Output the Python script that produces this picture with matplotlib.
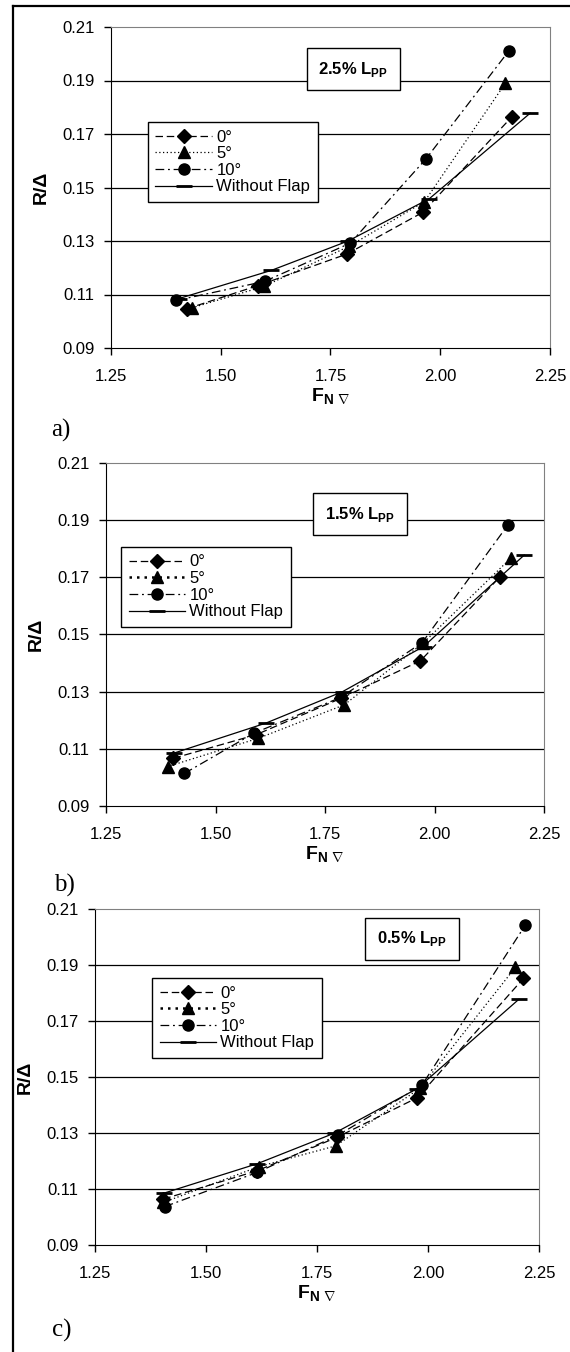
import matplotlib
matplotlib.use("Agg")
import matplotlib.pyplot as plt
from matplotlib.lines import Line2D

plt.rcParams['font.family'] = ['Liberation Sans', 'DejaVu Sans']
plt.rcParams['mathtext.fontset'] = 'custom'
plt.rcParams['mathtext.rm'] = 'Liberation Sans'
plt.rcParams['mathtext.bf'] = 'Liberation Sans:bold'

# data
series_labels = ['0°', '5°', '10°', 'Without Flap']
panel_tags = ['a)', 'b)', 'c)']
panel_titles = ['2.5%', '1.5%', '0.5%']
x_ticks = [1.25, 1.50, 1.75, 2.00, 2.25]
y_ticks = [0.09, 0.11, 0.13, 0.15, 0.17, 0.19, 0.21]

# without flap (same in every panel)
fn_nf = [1.405, 1.615, 1.790, 1.975, 2.205]
r_nf = [0.1085, 0.1190, 0.1300, 0.1458, 0.1778]

# a) 2.5% Lpp
fn_a0 = [1.422, 1.584, 1.787, 1.960, 2.163]
r_a0 = [0.1046, 0.1133, 0.1251, 0.1407, 0.1764]
fn_a5 = [1.434, 1.598, 1.792, 1.964, 2.148]
r_a5 = [0.1050, 0.1130, 0.1280, 0.1447, 0.1889]
fn_a10 = [1.399, 1.600, 1.795, 1.967, 2.156]
r_a10 = [0.1078, 0.1149, 0.1292, 0.1606, 0.2010]

# b) 1.5% Lpp
fn_b0 = [1.404, 1.592, 1.787, 1.968, 2.149]
r_b0 = [0.1067, 0.1149, 0.1277, 0.1408, 0.1701]
fn_b5 = [1.391, 1.598, 1.794, 1.974, 2.174]
r_b5 = [0.1038, 0.1137, 0.1254, 0.1470, 0.1767]
fn_b10 = [1.429, 1.588, 1.786, 1.972, 2.168]
r_b10 = [0.1014, 0.1155, 0.1280, 0.1472, 0.1884]

# c) 0.5% Lpp
fn_c0 = [1.404, 1.615, 1.794, 1.976, 2.215]
r_c0 = [0.1064, 0.1165, 0.1284, 0.1426, 0.1852]
fn_c5 = [1.404, 1.619, 1.792, 1.982, 2.197]
r_c5 = [0.1052, 0.1180, 0.1254, 0.1460, 0.1892]
fn_c10 = [1.407, 1.615, 1.797, 1.986, 2.219]
r_c10 = [0.1037, 0.1159, 0.1292, 0.1470, 0.2042]

panels = [
    [(fn_a0, r_a0), (fn_a5, r_a5), (fn_a10, r_a10), (fn_nf, r_nf)],
    [(fn_b0, r_b0), (fn_b5, r_b5), (fn_b10, r_b10), (fn_nf, r_nf)],
    [(fn_c0, r_c0), (fn_c5, r_c5), (fn_c10, r_c10), (fn_nf, r_nf)],
]

W, H = 570, 1352
fig = plt.figure(figsize=(W / 100, H / 100), dpi=100)

# axes boxes in pixels: left, right, top, bottom
boxes = [(111, 550, 27, 348), (106, 544, 463, 806), (95, 539, 909, 1245)]
legend_pos = [(148, 122), (121, 547), (152, 978)]
title_pos = [(0.552, 0.869), (0.580, 0.851), (0.714, 0.911)]
tag_pos = [(61, 430), (64, 885), (62, 1330)]

styles = [
    dict(ls=(0, (6, 3)), marker='D', ms=7),
    dict(ls=(0, (1, 2)), marker='^', ms=8),
    dict(ls=(0, (7, 3, 1.5, 3)), marker='o', ms=8),
    dict(ls='-', marker='_', ms=11, mew=2),
]

for i, (l, r, t, b) in enumerate(boxes):
    ax = fig.add_axes([l / W, 1 - b / H, (r - l) / W, (b - t) / H])
    for (x, y), lab, st in zip(panels[i], series_labels, styles):
        ax.plot(x, y, color='black', lw=0.9, label=lab, **st)
    ax.set_xlim(1.25, 2.25)
    ax.set_ylim(0.09, 0.21)
    ax.set_xticks(x_ticks)
    ax.set_xticklabels([f'{v:.2f}' for v in x_ticks])
    ax.set_yticks(y_ticks)
    ax.set_yticklabels([f'{v:.2f}' for v in y_ticks])
    for v in y_ticks[1:-1]:
        ax.axhline(v, color='black', lw=0.9, zorder=0)
    ax.tick_params(direction='out', length=5, width=1, labelsize=12, color='black')
    ax.tick_params(axis='x', pad=10)
    ax.tick_params(axis='y', pad=7)
    ax.spines['top'].set_color('#808080')
    ax.spines['right'].set_color('#808080')
    ax.set_xlabel(r'$\mathbf{F}_{\mathbf{N\ \nabla}}$', fontsize=14, labelpad=2)
    ax.set_ylabel('R/Δ', fontsize=14, fontweight='bold', labelpad=9)

    lx, ly = legend_pos[i]
    leg = ax.legend(loc='upper left', bbox_to_anchor=(lx / W, 1 - ly / H),
                    bbox_transform=fig.transFigure, fontsize=12, frameon=True,
                    fancybox=False, edgecolor='black', framealpha=1,
                    handlelength=3.4, handletextpad=0.25, labelspacing=0.1,
                    borderpad=0.45, borderaxespad=0)
    leg.get_frame().set_linewidth(1)
    # panels b and c show a heavier dotted sample for 5°
    if i > 0:
        leg.get_lines()[1].set_linewidth(1.8)

    tx, ty = title_pos[i]
    ax.text(tx, ty, panel_titles[i] + r' L$_{\mathbf{PP}}$', transform=ax.transAxes,
            fontsize=12, fontweight='bold', ha='center', va='center',
            bbox=dict(boxstyle='square,pad=0.7', facecolor='white',
                      edgecolor='black', lw=1))

    gx, gy = tag_pos[i]
    fig.text(gx / W, 1 - gy / H, panel_tags[i], fontsize=18,
             family=['Liberation Serif', 'DejaVu Serif'], ha='center', va='center')

# frame of the table cell
fig.add_artist(Line2D([13 / W, 1], [1 - 6 / H, 1 - 6 / H], color='black', lw=1.6))
fig.add_artist(Line2D([13 / W, 13 / W], [0, 1 - 6 / H], color='black', lw=1.6))

fig.savefig('out.png', dpi=100)
